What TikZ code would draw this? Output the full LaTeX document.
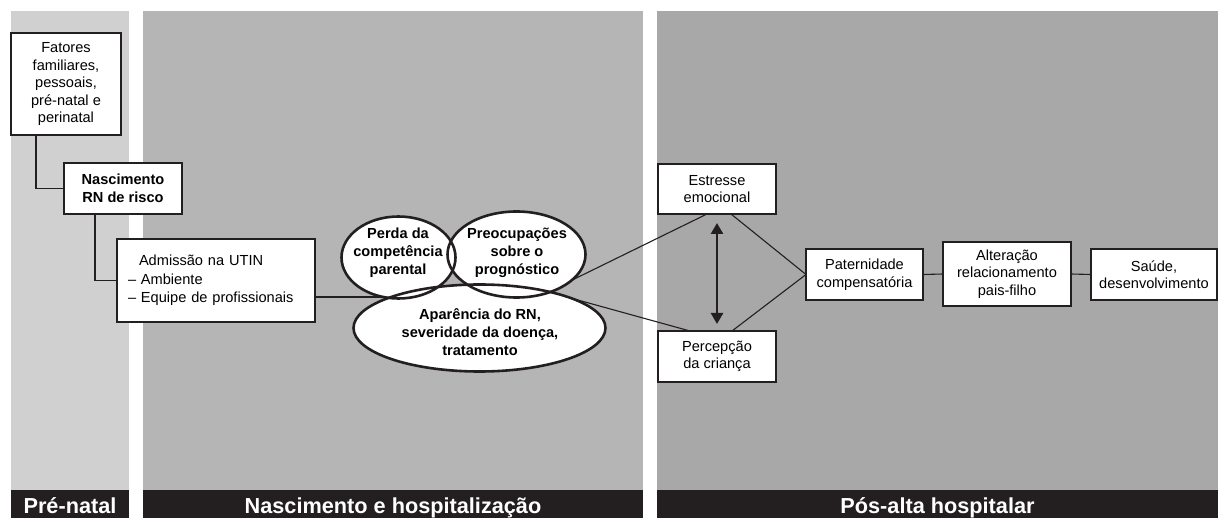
\documentclass[tikz,border=0pt]{standalone}
\usepackage{fontspec}
\setmainfont{Liberation Sans}
\usetikzlibrary{shapes.geometric,arrows.meta,calc}
\pgfdeclarelayer{back}
\pgfdeclarelayer{lines}
\pgfsetlayers{back,lines,main}
\definecolor{pa}{HTML}{D0D0D0}
\definecolor{pb}{HTML}{B5B5B5}
\definecolor{pc}{HTML}{A8A8A8}
\definecolor{ink}{HTML}{231F20}
\begin{document}
\begin{tikzpicture}[x=1pt,y=-1pt,
  box/.style={draw=ink,line width=1.3pt,fill=white,inner sep=0pt,outer sep=0pt,align=center,
    font=\fontsize{14.6}{17.5}\selectfont},
  boldbox/.style={box,font=\fontsize{14.6}{17.5}\selectfont\bfseries},
  elfill/.style={ellipse,fill=white,inner sep=0pt,outer sep=0pt},
  elline/.style={draw=ink,line width=2.6pt},
  eltext/.style={align=center,inner sep=0pt,font=\fontsize{14.6}{18}\selectfont\bfseries},
  conn/.style={draw=ink,line width=1.1pt},
  dbl/.style={draw=ink,line width=2.5pt,{Triangle[width=12pt,length=11pt]}-{Triangle[width=12pt,length=11pt]}},
  bartext/.style={text=white,inner sep=0pt,font=\fontsize{21.7}{24}\selectfont\bfseries}]
\useasboundingbox (0,0) rectangle (1218,518);
\begin{pgfonlayer}{back}
  \fill[white] (0,0) rectangle (1218,518);
  \fill[pa] (11,11) rectangle (129,490);
  \fill[pb] (143,11) rectangle (643,490);
  \fill[pc] (657,11) rectangle (1218,490);
  \fill[ink] (11,490) rectangle (129,518);
  \fill[ink] (143,490) rectangle (643,518);
  \fill[ink] (657,490) rectangle (1218,518);
\end{pgfonlayer}
\node[bartext,anchor=base] (lb1) at (70,513) {Pré-natal};
\node[bartext,anchor=base] (lb2) at (393,513) {Nascimento e hospitalização};
\node[bartext,anchor=base] (lb3) at (937.5,513) {Pós-alta hospitalar};
% boxes
\node[box,minimum width=110pt,minimum height=102pt] (fat) at (66,84) {Fatores\\familiares,\\pessoais,\\pré-natal e\\perinatal};
\node[boldbox,minimum width=118pt,minimum height=51pt] (nasc) at (123,188.5) {Nascimento\\RN de risco};
\node[box,align=left,text width=176pt,inner xsep=11pt,minimum height=83pt,font=\fontsize{14.6}{18.5}\selectfont] (adm) at (216,280.5)
  {\hspace*{11pt}Admissão na UTIN\\– Ambiente\\– Equipe de profissionais};
\node[box,minimum width=118pt,minimum height=50pt] (est) at (717,189) {Estresse\\emocional};
\node[box,minimum width=118pt,minimum height=51pt] (perc) at (717,356.5) {Percepção\\da criança};
\node[box,minimum width=117pt,minimum height=51pt] (pat) at (864.5,274.5) {Paternidade\\compensatória};
\node[box,minimum width=128pt,minimum height=64pt] (alt) at (1007,274) {Alteração\\relacionamento\\pais-filho};
\node[box,minimum width=126pt,minimum height=51pt] (sau) at (1154,274.5) {Saúde,\\desenvolvimento};
% ellipses
\node[elfill,minimum width=114pt,minimum height=82pt] (perda) at (398.5,257.5) {};
\node[elfill,minimum width=138pt,minimum height=86pt] (preoc) at (516.5,254.5) {};
\node[elfill,minimum width=252pt,minimum height=87pt] (apar) at (479.5,328) {};
\draw[elline] (perda.center) ellipse [x radius=57pt,y radius=41pt];
\draw[elline] (preoc.center) ellipse [x radius=69pt,y radius=43pt];
\draw[elline] (apar.center) ellipse [x radius=126pt,y radius=43.5pt];
\node[eltext] (tperda) at (398,253) {Perda da\\competência\\parental};
\node[eltext] (tpreoc) at (517,252.5) {Preocupações\\sobre o\\prognóstico};
\node[eltext] (tapar) at (480,332) {Aparência do RN,\\severidade da doença,\\tratamento};
% connectors
\begin{pgfonlayer}{lines}
  \draw[conn] ([xshift=25pt]fat.south west) |- (nasc.west);
  \draw[conn] ([xshift=31pt]nasc.south west) |- (adm.west);
  \draw[conn] ($(adm.east)+(0,16.5)$) -- ($(adm.east -| perda.center)+(0,16.5)$);
  \draw[conn] (preoc.-25) -- ([xshift=-10pt]est.south);
  \draw[conn] (apar.18) -- ([xshift=-27pt]perc.north);
  \draw[conn] ([xshift=14pt]est.south) -- (pat.west);
  \draw[conn] ([xshift=15pt]perc.north) -- (pat.west);
  \draw[conn] (pat.east) -- (alt.west);
  \draw[conn] (alt.east) -- (sau.west);
\end{pgfonlayer}
\draw[dbl] ([yshift=-9pt]est.south) -- ([yshift=7pt]perc.north);
\end{tikzpicture}
\end{document}
